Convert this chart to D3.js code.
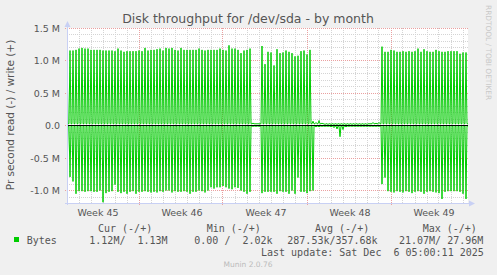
<!DOCTYPE html>
<html>
<head>
<meta charset="utf-8">
<script src="https://cdn.jsdelivr.net/npm/d3@7/dist/d3.min.js"></script>
<style>
body { margin: 0; background: #f0f0f0; }
svg text { font-family: "DejaVu Sans", sans-serif; fill: #555; }
svg text.mono { font-family: "DejaVu Sans Mono", monospace; white-space: pre; }
</style>
</head>
<body>
<script>

// one peak per 6 hour slot, starting Tue 4 Nov 2025 00:00, values in M bytes/s
var writePeaks = [
  1.17, 1.16, 1.16, 1.17, 1.19, 1.20, 1.19, 1.19, 1.17, 1.17,
  1.17, 1.17, 1.16, 1.16, 1.16, 1.16, 1.15, 1.19, 1.16, 1.14,
  1.15, 1.15, 1.15, 1.15, 1.16, 1.15, 1.20, 1.16, 1.17, 1.17,
  1.18, 1.19, 1.16, 1.20, 1.19, 1.20, 1.17, 1.16, 1.20, 1.17,
  1.17, 1.17, 1.17, 1.17, 1.19, 1.17, 1.16, 1.17, 1.17, 1.17,
  1.17, 1.19, 1.17, 1.16, 1.24, 1.19, 1.19, 1.17, 1.12, 1.16,
  1.17, 1.19,
  0.04, 0.03, 0.03,
  1.23, 0.95, 1.14, 1.13, 0.93, 1.18, 1.12, 1.13, 1.16, 1.14,
  1.12, 1.07, 1.08, 1.15, 1.16, 1.10, 1.17,
  0.07, 0.05, 0.08, 0.04, 0.02, 0.02, 0.02, 0.02, 0.02, 0.02,
  0.02, 0.02, 0.02, 0.02, 0.02, 0.02, 0.02, 0.02, 0.02, 0.03,
  0.05, 0.04, 0.05,
  1.22, 1.14, 1.14, 1.17, 1.16, 1.14, 1.14, 1.15, 1.14, 1.15,
  1.14, 1.15, 1.19, 1.14, 1.18, 1.15, 1.14, 1.14, 1.17, 1.15,
  1.14, 1.14, 1.15, 1.15, 1.15, 1.15, 1.11, 1.13, 1.13
]

var readPeaks = [
  0.84, 0.79, 0.86, 1.05, 1.01, 1.01, 1.02, 1.01, 1.01, 1.02,
  1.02, 1.00, 1.18, 1.04, 1.02, 1.01, 0.91, 1.02, 1.04, 1.02,
  1.05, 1.02, 1.01, 1.05, 1.02, 1.02, 1.01, 1.02, 1.03, 1.02,
  1.03, 1.01, 1.02, 1.00, 1.00, 1.03, 1.01, 1.02, 1.02, 1.01,
  1.02, 1.05, 1.02, 1.02, 1.00, 1.01, 1.03, 1.00, 0.95, 0.97,
  0.95, 0.95, 0.93, 0.95, 0.97, 0.98, 0.95, 0.96, 1.00, 1.02,
  1.05, 1.02,
  0.01, 0.01, 0.01,
  1.04, 1.02, 1.02, 1.02, 1.02, 1.05, 1.01, 1.02, 1.02, 1.05,
  1.00, 1.05, 0.80, 1.02, 1.02, 1.04, 1.01, 1.00,
  0.02, 0.02, 0.01, 0.01, 0.01, 0.02, 0.03, 0.05, 0.17, 0.06,
  0.02, 0.01, 0.01, 0.01, 0.01, 0.01, 0.01, 0.01, 0.01, 0.01,
  0.01, 0.01,
  0.90, 0.80, 1.01, 1.02, 1.03, 1.01, 1.02, 1.03, 1.01, 1.02,
  1.04, 1.02, 1.01, 1.02, 1.05, 1.02, 1.01, 1.02, 1.03, 1.04,
  1.13, 1.02, 1.01, 1.01, 1.01, 1.01, 1.02, 1.05, 1.13
]

// level between the peaks
var writeFloor = 0.03
var readFloor = 0.005

var yTicks = [-1.0, -0.5, 0, 0.5, 1.0, 1.5]
var yTickLabels = ["-1.0 M", "-0.5 M", "0.0", "0.5 M", "1.0 M", "1.5 M"]
var weekLabels = ["Week 45", "Week 46", "Week 47", "Week 48", "Week 49"]

var legendHeads = ["Cur (-/+)", "Min (-/+)", "Avg (-/+)", "Max (-/+)"]
var legendValues = ["1.12M/  1.13M", "0.00 /  2.02k", "287.53k/357.68k", "21.07M/ 27.96M"]

svgWidth = 497
svgHeight = 275
plot = {"left": 67, "right": 468, "top": 28, "bottom": 203}

t0 = Date.UTC(2025, 10, 4)
step = 2 * 3600 * 1000   // rrd resolution, 2 hours per pixel

xScale = d3.scaleUtc()
    .domain([new Date(t0), new Date(t0 + 401 * step)])
    .range([plot.left, plot.right])

yScale = d3.scaleLinear()
    .domain([-1.2e6, 1.5e6])
    .range([203.5, 28.5])

function crisp(v) { return Math.round(v - 0.5) + 0.5 }

function expand(peaks, floor, sign) {
  var out = []
  peaks.forEach(function(p, k) {
    [p, floor, floor].forEach(function(v, j) {
      out.push({t: new Date(t0 + (3 * k + j) * step), v: sign * v * 1e6})
    })
  })
  return out
}

writeData = expand(writePeaks, writeFloor, 1)
readData = expand(readPeaks, readFloor, -1)

var svg = d3.select("body").append("svg")
    .attr("width", svgWidth)
    .attr("height", svgHeight)

svg.append("rect")
    .attr("width", svgWidth).attr("height", svgHeight)
    .attr("fill", "#f0f0f0")

svg.append("rect")
    .attr("x", plot.left).attr("y", plot.top)
    .attr("width", plot.right - plot.left)
    .attr("height", plot.bottom - plot.top)
    .attr("fill", "#ffffff")

// grid
end = new Date(t0 + 401 * step)
days = d3.utcDay.range(new Date(t0 + 1), end)
mondays = d3.utcMonday.range(new Date(t0), end)
minorDays = days.filter(function(d) { return d.getUTCDay() != 1 })

svg.append("g").selectAll("line")
    .data(minorDays)
    .enter().append("line")
      .attr("x1", function(d) { return crisp(xScale(d)) })
      .attr("x2", function(d) { return crisp(xScale(d)) })
      .attr("y1", plot.top).attr("y2", plot.bottom)
      .attr("stroke", "#d4d4d4")
      .attr("stroke-dasharray", "1,1")

minorY = d3.range(-12, 16).map(function(i) { return i * 1e5 })
    .filter(function(v) { return Math.round(v / 1e5) % 5 != 0 })

svg.append("g").selectAll("line")
    .data(minorY)
    .enter().append("line")
      .attr("x1", plot.left).attr("x2", plot.right)
      .attr("y1", function(d) { return crisp(yScale(d)) })
      .attr("y2", function(d) { return crisp(yScale(d)) })
      .attr("stroke", "#d4d4d4")
      .attr("stroke-dasharray", "1,1")

svg.append("g").selectAll("line")
    .data(mondays)
    .enter().append("line")
      .attr("x1", function(d) { return crisp(xScale(d)) })
      .attr("x2", function(d) { return crisp(xScale(d)) })
      .attr("y1", plot.top).attr("y2", plot.bottom + 3)
      .attr("stroke", "#eaa0a0")
      .attr("stroke-dasharray", "1,1")

svg.append("g").selectAll("line")
    .data(yTicks)
    .enter().append("line")
      .attr("x1", plot.left - 2).attr("x2", plot.right)
      .attr("y1", function(d) { return crisp(yScale(d * 1e6)) })
      .attr("y2", function(d) { return crisp(yScale(d * 1e6)) })
      .attr("stroke", "#eaa0a0")
      .attr("stroke-dasharray", "1,1")

// data
svg.append("clipPath").attr("id", "clip")
  .append("rect")
    .attr("x", plot.left).attr("y", plot.top)
    .attr("width", plot.right - plot.left)
    .attr("height", plot.bottom - plot.top)

line = d3.line()
    .x(function(d) { return xScale(d.t) })
    .y(function(d) { return yScale(d.v) })

svg.append("path")
    .datum(readData)
    .attr("clip-path", "url(#clip)")
    .attr("d", line)
    .attr("fill", "none")
    .attr("stroke", "#00cc00")
    .attr("stroke-width", 1)

svg.append("path")
    .datum(writeData)
    .attr("clip-path", "url(#clip)")
    .attr("d", line)
    .attr("fill", "none")
    .attr("stroke", "#00cc00")
    .attr("stroke-width", 1)

svg.append("line")
    .attr("x1", plot.left).attr("x2", plot.right)
    .attr("y1", crisp(yScale(0))).attr("y2", crisp(yScale(0)))
    .attr("stroke", "#000000")

// axes with arrows
axisColor = "#c8d0f4"
svg.append("line")
    .attr("x1", plot.left + 0.5).attr("x2", plot.left + 0.5)
    .attr("y1", plot.bottom + 2).attr("y2", 24)
    .attr("stroke", axisColor)
svg.append("path")
    .attr("d", "M" + (plot.left - 2.5) + ",27 L" + (plot.left + 0.5) + ",21 L" + (plot.left + 3.5) + ",27 Z")
    .attr("fill", axisColor)
svg.append("line")
    .attr("x1", plot.left - 2).attr("x2", plot.right + 4)
    .attr("y1", plot.bottom + 0.5).attr("y2", plot.bottom + 0.5)
    .attr("stroke", axisColor)
svg.append("path")
    .attr("d", "M" + (plot.right + 1) + "," + (plot.bottom - 2.5) + " L" + (plot.right + 7) + "," + (plot.bottom + 0.5) + " L" + (plot.right + 1) + "," + (plot.bottom + 3.5) + " Z")
    .attr("fill", axisColor)

// labels
svg.selectAll(".ylabel")
    .data(yTicks)
    .enter().append("text")
      .attr("class", "ylabel")
      .attr("x", 60)
      .attr("y", function(d) { return crisp(yScale(d * 1e6)) + 3.5 })
      .attr("text-anchor", "end")
      .attr("font-size", "9.5px")
      .text(function(d, i) { return yTickLabels[i] })

weekStarts = d3.utcMonday.range(new Date(Date.UTC(2025, 10, 3)), end)
svg.selectAll(".xlabel")
    .data(weekStarts)
    .enter().append("text")
      .attr("class", "xlabel")
      .attr("x", function(d) { return xScale(new Date(+d + 3.5 * 864e5)) + 1 })
      .attr("y", 215.5)
      .attr("text-anchor", "middle")
      .attr("font-size", "9.5px")
      .text(function(d, i) { return weekLabels[i] })

svg.append("text")
    .attr("x", 248).attr("y", 23)
    .attr("text-anchor", "middle")
    .attr("font-size", "12.5px")
    .text("Disk throughput for /dev/sda - by month")

svg.append("text")
    .attr("transform", "translate(13.5, 115) rotate(-90)")
    .attr("text-anchor", "middle")
    .attr("font-size", "10.5px")
    .text("Pr second read (-) / write (+)")

svg.append("text")
    .attr("transform", "translate(486, 5) rotate(90)")
    .attr("font-size", "7.4px")
    .style("fill", "#c8c8c8")
    .text("RRDTOOL / TOBI OETIKER")

// legend
headX = [98, 206.7, 315, 422.7]
valueX = [89.3, 194.3, 287.3, 399]

svg.selectAll(".head")
    .data(legendHeads)
    .enter().append("text")
      .attr("class", "mono head")
      .attr("x", function(d, i) { return headX[i] })
      .attr("y", 231.5)
      .attr("font-size", "10px")
      .text(function(d) { return d })

svg.append("rect")
    .attr("x", 14).attr("y", 237)
    .attr("width", 5).attr("height", 5)
    .attr("fill", "#00cc00")

svg.append("text")
    .attr("class", "mono")
    .attr("x", 26.7).attr("y", 243.5)
    .attr("font-size", "10px")
    .text("Bytes")

svg.selectAll(".val")
    .data(legendValues)
    .enter().append("text")
      .attr("class", "mono val")
      .attr("x", function(d, i) { return valueX[i] })
      .attr("y", 243.5)
      .attr("font-size", "10px")
      .text(function(d) { return d })

svg.append("text")
    .attr("class", "mono")
    .attr("x", 261).attr("y", 255.5)
    .attr("font-size", "10px")
    .text("Last update: Sat Dec  6 05:00:11 2025")

svg.append("text")
    .attr("x", 248).attr("y", 267)
    .attr("text-anchor", "middle")
    .attr("font-size", "7.5px")
    .style("fill", "#bbbbbb")
    .text("Munin 2.0.76")

</script>
</body>
</html>
